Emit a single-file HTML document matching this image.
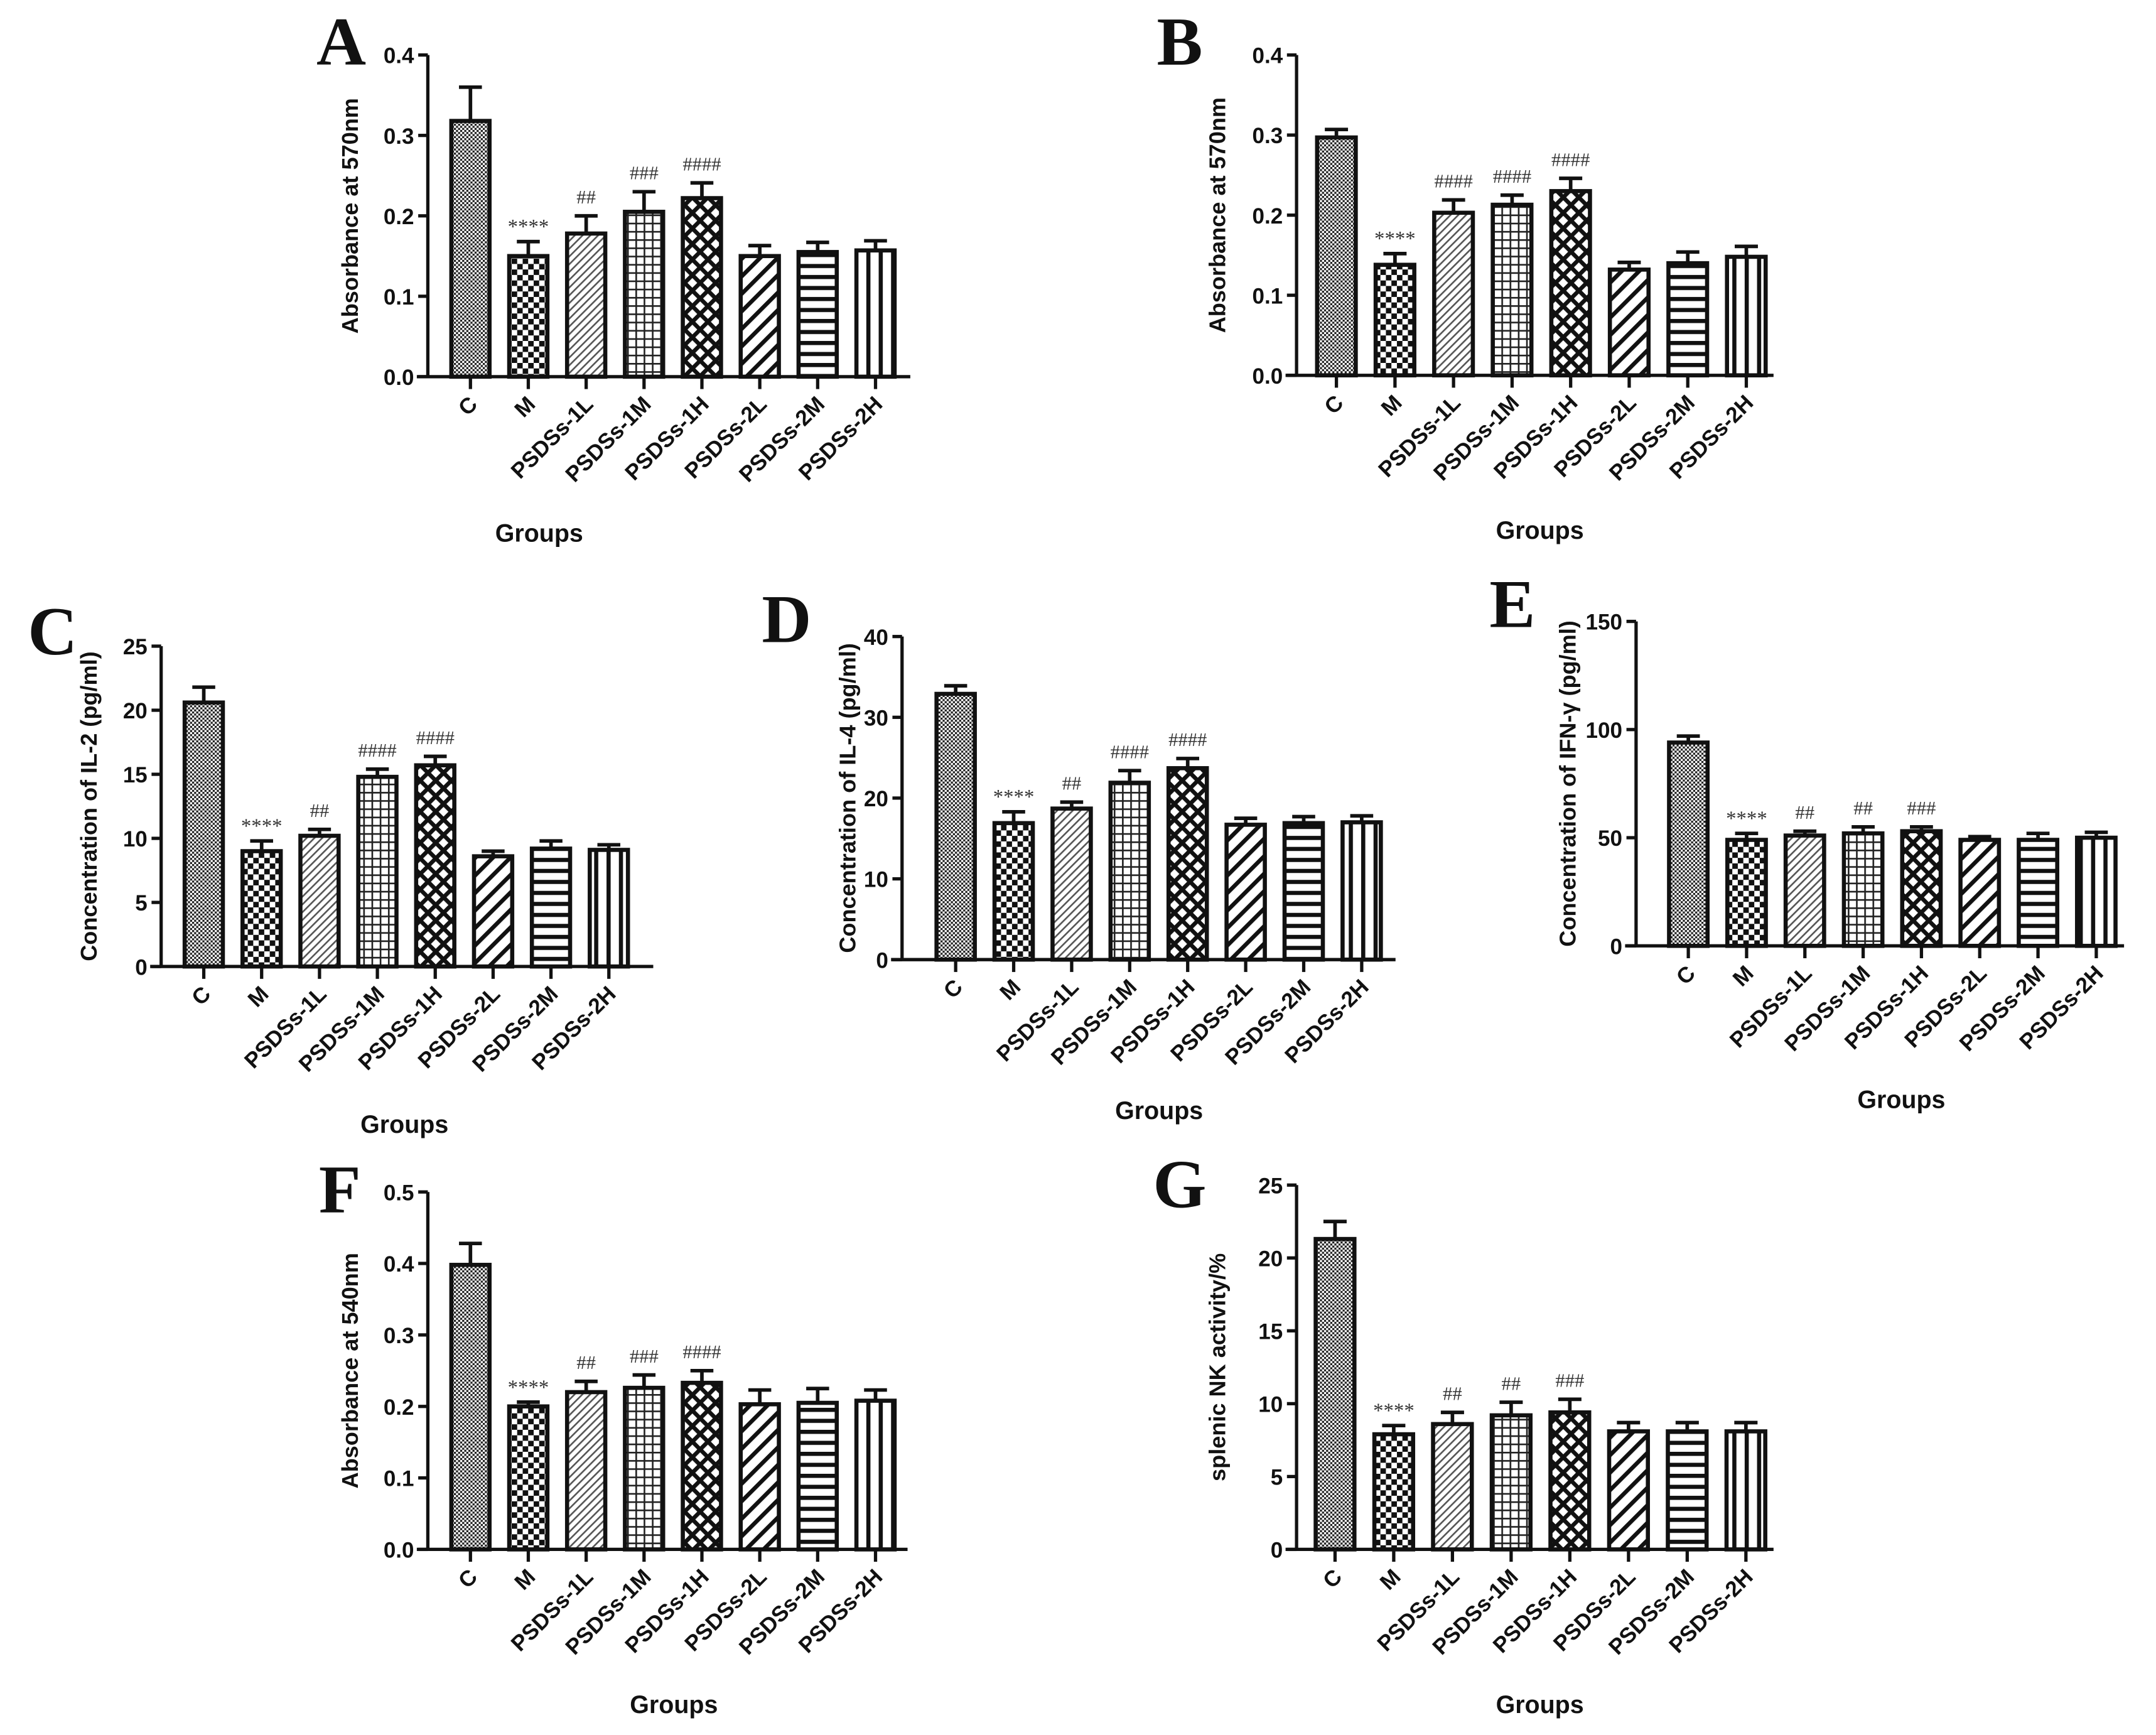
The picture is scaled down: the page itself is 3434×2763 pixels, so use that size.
<!DOCTYPE html>
<html><head><meta charset="utf-8"><style>
html,body{margin:0;padding:0;background:#fff}
svg{display:block}
text{font-family:"Liberation Sans",Arial,sans-serif;font-weight:bold;fill:#111}
</style></head><body>
<svg id="fig" width="3434" height="2763" viewBox="0 0 1568 1262" xmlns="http://www.w3.org/2000/svg">
<defs>
<pattern id="pC" patternUnits="userSpaceOnUse" width="3" height="3"><rect width="3" height="3" fill="#fff"/><rect width="1.5" height="1.5" fill="#222"/><rect x="1.5" y="1.5" width="1.5" height="1.5" fill="#222"/></pattern>
<pattern id="pM" patternUnits="userSpaceOnUse" width="8" height="8"><rect width="8" height="8" fill="#fff"/><rect width="4" height="4" fill="#111"/><rect x="4" y="4" width="4" height="4" fill="#111"/></pattern>
<pattern id="p1L" patternUnits="userSpaceOnUse" width="4" height="4" patternTransform="rotate(45)"><rect width="4" height="4" fill="#fff"/><rect width="1.2" height="4" fill="#555"/></pattern>
<pattern id="p1M" patternUnits="userSpaceOnUse" width="6" height="6"><rect width="6" height="6" fill="#fff"/><rect width="1.2" height="6" fill="#222"/><rect width="6" height="1.2" fill="#222"/></pattern>
<pattern id="p1H" patternUnits="userSpaceOnUse" width="8" height="8" patternTransform="rotate(45)"><rect width="8" height="8" fill="#fff"/><rect width="3" height="8" fill="#111"/><rect width="8" height="3" fill="#111"/></pattern>
<pattern id="p2L" patternUnits="userSpaceOnUse" width="9" height="9" patternTransform="rotate(45)"><rect width="9" height="9" fill="#fff"/><rect width="3" height="9" fill="#111"/></pattern>
<pattern id="p2M" patternUnits="userSpaceOnUse" width="8" height="8"><rect width="8" height="8" fill="#fff"/><rect width="8" height="3" fill="#111"/></pattern>
<pattern id="p2H" patternUnits="userSpaceOnUse" width="9" height="9"><rect width="9" height="9" fill="#fff"/><rect width="3" height="9" fill="#111"/></pattern>
</defs>
</svg>
<script>
const categories = ["C","M","PSDSs-1L","PSDSs-1M","PSDSs-1H","PSDSs-2L","PSDSs-2M","PSDSs-2H"];
const valuesA = [0.318,0.150,0.178,0.205,0.222,0.150,0.155,0.157];
const errorsA = [0.042,0.018,0.022,0.025,0.019,0.013,0.012,0.012];
const valuesB = [0.297,0.138,0.203,0.213,0.230,0.132,0.140,0.148];
const errorsB = [0.010,0.014,0.016,0.012,0.016,0.009,0.014,0.013];
const valuesC = [20.6,9.0,10.2,14.8,15.7,8.6,9.2,9.1];
const errorsC = [1.2,0.8,0.5,0.6,0.7,0.4,0.6,0.4];
const valuesD = [32.9,16.9,18.7,21.9,23.7,16.7,16.9,17.0];
const errorsD = [1.0,1.4,0.8,1.5,1.2,0.8,0.8,0.8];
const valuesE = [94,49,51,52,53,49,49,50];
const errorsE = [3,3,2,3,2,1.5,3,2.5];
const valuesF = [0.398,0.200,0.220,0.226,0.233,0.203,0.205,0.208];
const errorsF = [0.030,0.006,0.015,0.018,0.017,0.020,0.020,0.015];
const valuesG = [21.3,7.9,8.6,9.2,9.4,8.1,8.1,8.1];
const errorsG = [1.2,0.6,0.8,0.9,0.9,0.6,0.6,0.6];
const sigA = ["","****","##","###","####","","",""];
const sigB = ["","****","####","####","####","","",""];
const sigC = ["","****","##","####","####","","",""];
const sigD = ["","****","##","####","####","","",""];
const sigE = ["","****","##","##","###","","",""];
const sigF = ["","****","##","###","####","","",""];
const sigG = ["","****","##","##","###","","",""];
const ticksA = ["0.0","0.1","0.2","0.3","0.4"];
const ticksB = ["0.0","0.1","0.2","0.3","0.4"];
const ticksC = ["0","5","10","15","20","25"];
const ticksD = ["0","10","20","30","40"];
const ticksE = ["0","50","100","150"];
const ticksF = ["0.0","0.1","0.2","0.3","0.4","0.5"];
const ticksG = ["0","5","10","15","20","25"];
const patterns = ["pC","pM","p1L","p1M","p1H","p2L","p2M","p2H"];

const NS="http://www.w3.org/2000/svg";
const svg=document.getElementById('fig');
function mk(tag,attrs,parent){const e=document.createElementNS(NS,tag);for(const k in attrs)e.setAttribute(k,attrs[k]);(parent||svg).appendChild(e);return e;}

const panels=[
 {id:"a",letter:"A",vals:valuesA,errs:errorsA,sig:sigA,ticks:ticksA,ylab:"Absorbance at 570nm",ax:311,top:40,bot:274,c0:342,sp:42.1,xend:662,lx:248,ly:47,gx:392,gy:394,ylx:262},
 {id:"b",letter:"B",vals:valuesB,errs:errorsB,sig:sigB,ticks:ticksB,ylab:"Absorbance at 570nm",ax:943,top:40,bot:273,c0:972,sp:42.6,xend:1290,lx:858,ly:47,gx:1120,gy:392,ylx:893},
 {id:"c",letter:"C",vals:valuesC,errs:errorsC,sig:sigC,ticks:ticksC,ylab:"Concentration of IL-2 (pg/ml)",ax:117,top:470,bot:703,c0:148,sp:42.1,xend:475,lx:38,ly:476,gx:294,gy:824,ylx:72},
 {id:"d",letter:"D",vals:valuesD,errs:errorsD,sig:sigD,ticks:ticksD,ylab:"Concentration of IL-4 (pg/ml)",ax:656,top:463,bot:698,c0:695,sp:42.2,xend:1015,lx:572,ly:467,gx:843,gy:814,ylx:624},
 {id:"e",letter:"E",vals:valuesE,errs:errorsE,sig:sigE,ticks:ticksE,ylab:"Concentration of IFN-\u03b3 (pg/ml)",ax:1190,top:452,bot:688,c0:1228,sp:42.4,xend:1545,lx:1100,ly:456,gx:1383,gy:806,ylx:1148},
 {id:"f",letter:"F",vals:valuesF,errs:errorsF,sig:sigF,ticks:ticksF,ylab:"Absorbance at 540nm",ax:311,top:867,bot:1127,c0:342,sp:42.1,xend:660,lx:247,ly:882,gx:490,gy:1246,ylx:262},
 {id:"g",letter:"G",vals:valuesG,errs:errorsG,sig:sigG,ticks:ticksG,ylab:"splenic NK activity/%",ax:943,top:862,bot:1127,c0:971,sp:42.7,xend:1290,lx:858,ly:878,gx:1120,gy:1246,ylx:893}
];

panels.forEach(p=>{
  const g=mk('g',{});
  
  
  const tmax=parseFloat(p.ticks[p.ticks.length-1]);
  const y=v=>p.bot-(v/tmax)*(p.bot-p.top);
  const x=i=>p.c0+i*p.sp;
  const bw=p.sp*0.66;
  const L=mk('text',{x:p.lx,y:p.ly,'text-anchor':'middle','font-size':50,style:'font-family:"Liberation Serif",serif;font-weight:bold'},g);
  L.textContent=p.letter;
  
  
  p.vals.forEach((v,i)=>{
    const e=p.errs[i];
    const eb=mk('path',{d:`M${x(i)} ${y(v)} V${y(v+e)} M${x(i)-bw*0.3} ${y(v+e)} H${x(i)+bw*0.3}`,stroke:'#111','stroke-width':2.6,fill:'none'},g);
    
    
    const r=mk('rect',{x:x(i)-bw/2,y:y(v),width:bw,height:p.bot-y(v),fill:'url(#'+patterns[i]+')',stroke:'#111','stroke-width':3},g);
    
    
    if(p.sig[i]){
      const s=mk('text',{x:x(i),y:y(v+e)-(p.sig[i][0]=='*'?6:9),'text-anchor':'middle','font-size':p.sig[i][0]=='*'?15:14,style:'font-family:"Liberation Serif",serif;font-weight:normal;fill:#333'},g);
      s.textContent=p.sig[i];
      
      
    }
    const t=mk('line',{x1:x(i),x2:x(i),y1:p.bot,y2:p.bot+9,stroke:'#111','stroke-width':2.4},g);
    
    
    const tl=mk('text',{transform:`translate(${x(i)+6},${p.bot+21}) rotate(-45)`,'text-anchor':'end','font-size':16},g);
    tl.textContent=categories[i];
    
    
  });
  const ya=mk('line',{x1:p.ax,x2:p.ax,y1:p.top,y2:p.bot,stroke:'#111','stroke-width':2.4},g);
  
  
  const xa=mk('line',{x1:p.ax-8,x2:p.xend,y1:p.bot,y2:p.bot,stroke:'#111','stroke-width':2.4},g);
  
  
  p.ticks.forEach(tk=>{
    const v=parseFloat(tk);
    const tl=mk('line',{x1:p.ax-7,x2:p.ax,y1:y(v),y2:y(v),stroke:'#111','stroke-width':2.4},g);
    
    
    const tt=mk('text',{x:p.ax-10,y:y(v)+6,'text-anchor':'end','font-size':16},g);
    tt.textContent=tk;
    
    
  });
  const yl=mk('text',{transform:`translate(${p.ylx-2},${(p.top+p.bot)/2}) rotate(-90)`,'text-anchor':'middle','font-size':16.5},g);
  yl.textContent=p.ylab;
  
  
  const gl=mk('text',{x:p.gx,y:p.gy,'text-anchor':'middle','font-size':18},g);
  gl.textContent='Groups';
  
  
});
</script>
</body></html>
